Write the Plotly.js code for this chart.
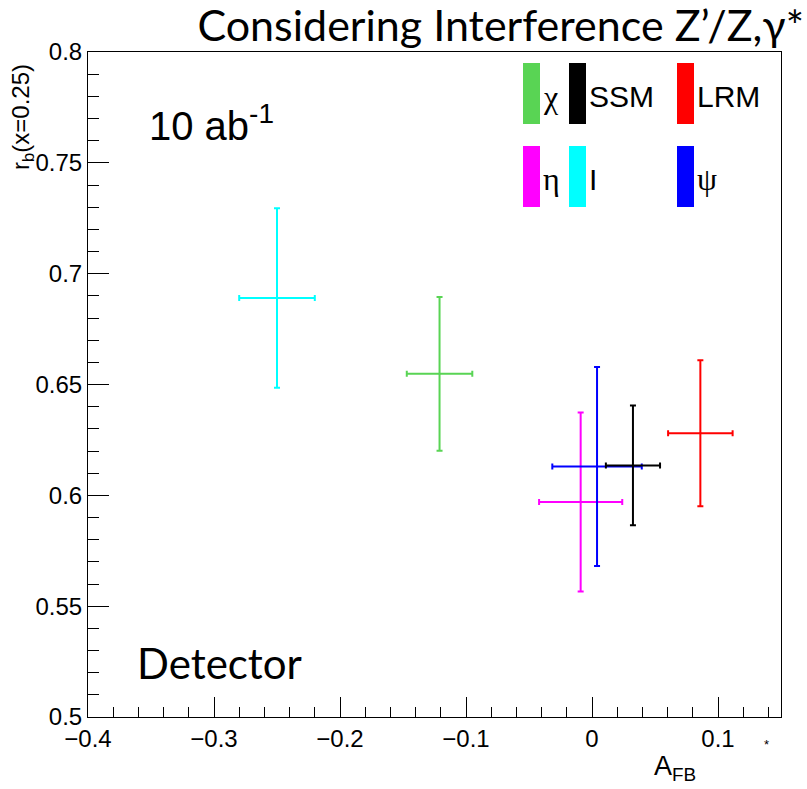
<!DOCTYPE html>
<html>
<head>
<meta charset="utf-8">
<script src="https://cdn.plot.ly/plotly-3.0.1.min.js"></script>
<style>html,body{margin:0;padding:0;background:#fff;}#chart{width:807px;height:789px;}</style>
</head>
<body>
<div id="chart"></div>
<script>
// ---- data ----
const models   = ["I", "χ", "η", "ψ", "SSM", "LRM"];
const colors   = ["#00ffff", "#59d454", "#ff00ff", "#0000ff", "#000000", "#ff0000"];
const afb      = [-0.250, -0.121, -0.009, 0.004, 0.0325, 0.086];
const afbErr   = [0.030, 0.026, 0.033, 0.0355, 0.0215, 0.0256];
const rb       = [0.689, 0.6548, 0.597, 0.613, 0.6135, 0.628];
const rbErr    = [0.0405, 0.0347, 0.0404, 0.0449, 0.027, 0.0329];

const xTickVals = [-0.4, -0.3, -0.2, -0.1, 0, 0.1];
const xTickText = ["\u22120.4", "\u22120.3", "\u22120.2", "\u22120.1", "0", "0.1"];
const yTickVals = [0.5, 0.55, 0.6, 0.65, 0.7, 0.75, 0.8];
const yTickText = ["0.5", "0.55", "0.6", "0.65", "0.7", "0.75", "0.8"];

// legend order (grid of 2 rows x 3 columns)
const legendOrder = ["χ", "SSM", "LRM", "η", "I", "ψ"];

// ---- layout helpers (pixel -> paper) ----
const L = 88, R = 781, T = 52, B = 717;
const px = p => (p - L) / (R - L);
const py = p => (B - p) / (B - T);

const traces = models.map((m, i) => ({
  type: "scatter", mode: "markers",
  x: [afb[i]], y: [rb[i]],
  marker: {size: 2, color: colors[i]},
  error_x: {type: "data", array: [afbErr[i]], visible: true, color: colors[i], thickness: 2, width: 3},
  error_y: {type: "data", array: [rbErr[i]], visible: true, color: colors[i], thickness: 2, width: 3},
  showlegend: false, hoverinfo: "skip", name: m
}));

// legend grid geometry
const colBarX = [523, 569, 677];
const rowTop = [63, 146];
const barW = 17, barH = 61;
const shapes = [];
const annotations = [];
legendOrder.forEach((m, k) => {
  const i = models.indexOf(m);
  const c = k % 3, r = Math.floor(k / 3);
  const x0 = colBarX[c], y0 = rowTop[r];
  shapes.push({type: "rect", xref: "paper", yref: "paper",
    x0: px(x0), x1: px(x0 + barW), y0: py(y0 + barH), y1: py(y0),
    fillcolor: colors[i], line: {width: 0}});
  const greek = (m === "χ" || m === "η" || m === "ψ");
  annotations.push({xref: "paper", yref: "paper", x: px(x0 + barW + 1), y: py(y0 + barH / 2 + 3),
    xanchor: "left", yanchor: "middle", showarrow: false, text: m,
    font: {family: greek ? "Liberation Serif, DejaVu Serif, serif" : "Liberation Sans, Arial, sans-serif", size: greek ? 32 : 30, color: "#000"}});
});

annotations.push(
  {xref: "paper", yref: "paper", x: px(147), y: py(123), xanchor: "left", yanchor: "middle", showarrow: false,
   text: "10 ab<sup>-1</sup>", font: {family: "Liberation Sans, Arial, sans-serif", size: 40, color: "#000"}},
  {xref: "paper", yref: "paper", x: px(135), y: py(663), xanchor: "left", yanchor: "middle", showarrow: false,
   text: "Detector", font: {family: "Lato, Carlito, sans-serif", size: 42, color: "#000"}},
  {xref: "paper", yref: "paper", x: px(22), y: py(62), xanchor: "center", yanchor: "top", showarrow: false, textangle: -90,
   text: "r<sub>b</sub>(x=0.25)", font: {family: "Liberation Sans, Arial, sans-serif", size: 24, color: "#000"}},
  {xref: "paper", yref: "paper", x: px(652), y: py(768), xanchor: "left", yanchor: "middle", showarrow: false,
   text: "A<sub>FB</sub>", font: {family: "Liberation Sans, Arial, sans-serif", size: 27, color: "#000"}},
  {xref: "paper", yref: "paper", x: px(766), y: py(745), xanchor: "center", yanchor: "middle", showarrow: false,
   text: "*", font: {family: "Liberation Sans, Arial, sans-serif", size: 13, color: "#000"}}
);

const axisCommon = {
  showgrid: false, zeroline: false, showline: true, mirror: true,
  linecolor: "#000", linewidth: 1, ticks: "inside", tickcolor: "#000", tickwidth: 1,
  ticklen: 20, fixedrange: true,
  tickfont: {family: "Liberation Sans, Arial, sans-serif", size: 24, color: "#000"}
};

const layout = {
  width: 807, height: 789,
  margin: {l: L, r: 807 - R, t: T, b: 789 - B},
  paper_bgcolor: "#fff", plot_bgcolor: "#fff",
  title: {text: "Considering Interference Z\u2019/Z,\u03b3*", xref: "container", yref: "container",
          x: 804 / 807, xanchor: "right", y: 1 - 26 / 789, yanchor: "middle",
          font: {family: "Lato, Carlito, sans-serif", size: 43, color: "#000"}},
  xaxis: Object.assign({}, axisCommon, {
    range: [-0.4, 0.15], tickmode: "array", tickvals: xTickVals, ticktext: xTickText,
    minor: {dtick: 0.02, tick0: 0, ticks: "inside", ticklen: 10, tickcolor: "#000", tickwidth: 1}
  }),
  yaxis: Object.assign({}, axisCommon, {
    range: [0.5, 0.8], tickmode: "array", tickvals: yTickVals, ticktext: yTickText,
    ticklen: 21,
    minor: {dtick: 0.01, tick0: 0, ticks: "inside", ticklen: 11, tickcolor: "#000", tickwidth: 1}
  }),
  shapes: shapes,
  annotations: annotations,
  showlegend: false
};

Plotly.newPlot("chart", traces, layout, {displayModeBar: false, staticPlot: true});
</script>
</body>
</html>
